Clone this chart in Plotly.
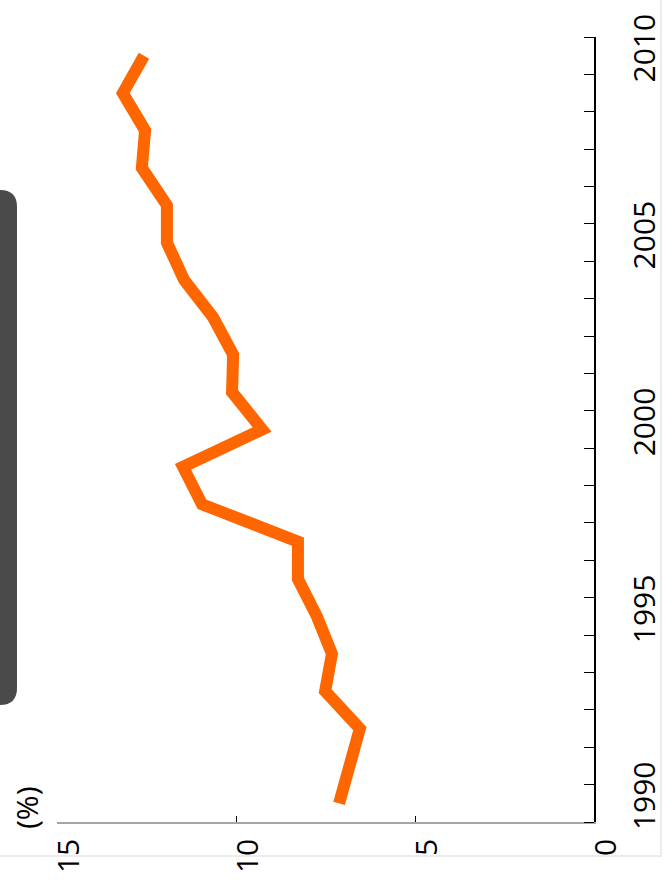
import plotly.graph_objects as go

years = list(range(1990, 2011))
values = [7.12, 6.85, 6.54, 7.51, 7.32, 7.74, 8.27, 8.27, 10.95, 11.48, 9.27,
          10.11, 10.08, 10.64, 11.45, 11.93, 11.93, 12.63, 12.54, 13.16, 12.57]
year_labels = [1990, 1995, 2000, 2005, 2010]
value_ticks = [0, 5, 10, 15]
unit_label = "(%)"

W, H = 667, 882
L, R, T, B = 57, 73, 37, 60
pw, ph = W - L - R, H - T - B

def px2paper_x(px):
    return (px - L) / pw

def px2paper_y(py):
    return (H - B - py) / ph

FONT = "Open Sans"
FS = 30
fig = go.Figure()
fig.add_trace(go.Scatter(
    x=values, y=years, mode="lines",
    line=dict(color="#FF6600", width=12, shape="linear"),
    hoverinfo="skip", showlegend=False,
))

fig.update_layout(
    width=W, height=H,
    margin=dict(l=L, r=R, t=T, b=B, pad=0, autoexpand=False),
    paper_bgcolor="white", plot_bgcolor="white",
    font=dict(family=FONT, size=FS, color="black"),
    showlegend=False,
)

fig.update_xaxes(
    range=[15, 0], showgrid=False, zeroline=False, automargin=False,
    showline=True, linecolor="#a6a6a6", linewidth=1.5,
    tickmode="array",
    tickvals=value_ticks,
    ticktext=[str(v) for v in value_ticks],
    ticks="inside", ticklen=6, tickcolor="black", tickwidth=1,
    tickangle=-90,
    ticklabelstandoff=3,
    ticklabelshift=-12,
)

fig.update_yaxes(
    range=[1989.5, 2010.5], side="right", showgrid=False, zeroline=False,
    automargin=False,
    showline=True, linecolor="black", linewidth=1.5,
    tickmode="array",
    tickvals=year_labels,
    ticktext=[str(y) for y in year_labels],
    ticks="", tickangle=-90,
    ticklabelstandoff=23,
    ticklabelshift=-3,
    minor=dict(tickmode="array", tickvals=[y - 0.5 for y in years] + [2010.5],
               ticks="inside", ticklen=10, tickcolor="black", tickwidth=1,
               showgrid=False),
)

# unit label
fig.add_annotation(
    x=px2paper_x(26), y=px2paper_y(808), xref="paper", yref="paper",
    text=unit_label, showarrow=False, textangle=-90,
    font=dict(family=FONT, size=FS, color="black"),
    xanchor="center", yanchor="middle",
)

# dark rounded panel on the left (partially off-canvas)
x0, x1 = px2paper_x(-30), px2paper_x(17)
rx = 17 / pw
y0, y1 = px2paper_y(705), px2paper_y(190)
ry = 17 / ph
path = (f"M {x0},{y0} L {x1-rx},{y0} Q {x1},{y0} {x1},{y0+ry} "
        f"L {x1},{y1-ry} Q {x1},{y1} {x1-rx},{y1} L {x0},{y1} Z")
fig.add_shape(type="path", path=path, xref="paper", yref="paper",
              fillcolor="#4a4a4a", line=dict(width=0), layer="above")

# faint chart border
fig.add_shape(type="rect", xref="paper", yref="paper",
              x0=px2paper_x(-20), x1=px2paper_x(661),
              y0=px2paper_y(856), y1=px2paper_y(-20),
              line=dict(color="#ececec", width=2), layer="below")

fig.write_html(
    "out.html",
    config={"displayModeBar": False},
    post_script="document.body.style.margin='0';document.body.style.overflow='hidden';",
)
